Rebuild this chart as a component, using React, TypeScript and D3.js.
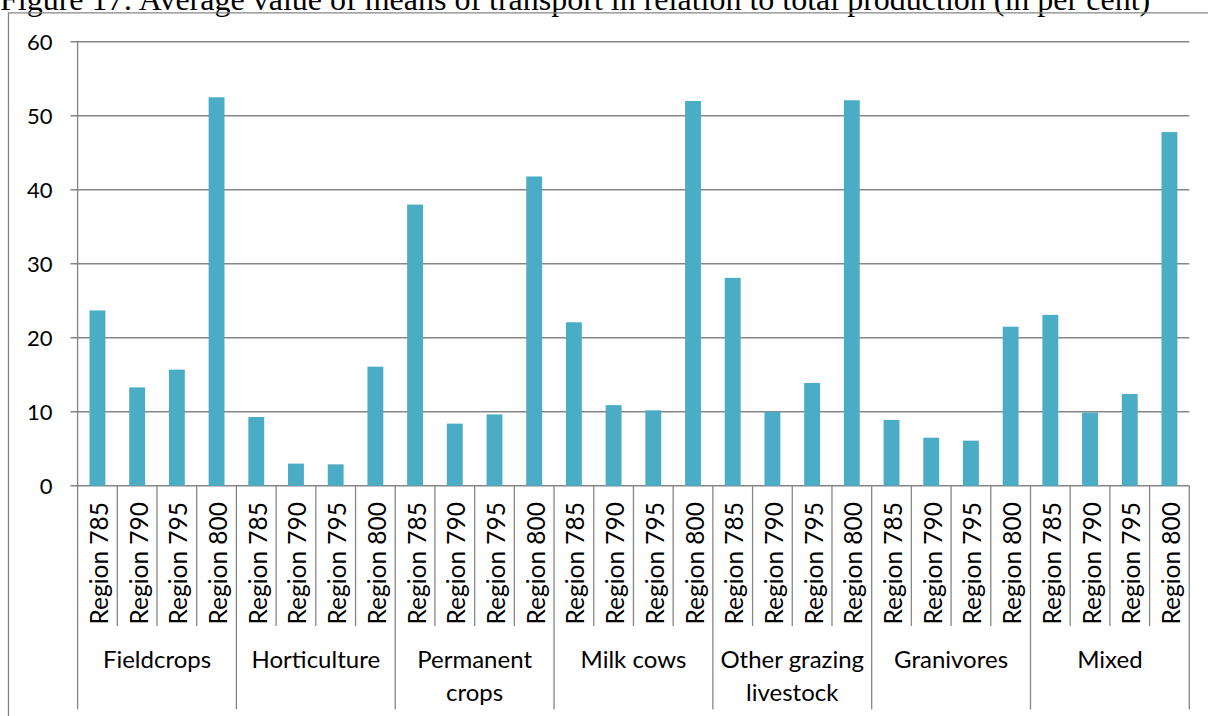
import React from "react";
import * as d3 from "d3";

const title =
  "Figure 17: Average value of means of transport in relation to total production (in per cent)";
const categories = [
  "Fieldcrops",
  "Horticulture",
  "Permanent crops",
  "Milk cows",
  "Other grazing livestock",
  "Granivores",
  "Mixed",
];
const categoryLines = [
  ["Fieldcrops"],
  ["Horticulture"],
  ["Permanent", "crops"],
  ["Milk cows"],
  ["Other grazing", "livestock"],
  ["Granivores"],
  ["Mixed"],
];
const regions = ["Region 785", "Region 790", "Region 795", "Region 800"];
const region785 = [23.7, 9.3, 38.0, 22.1, 28.1, 8.9, 23.1];
const region790 = [13.3, 3.0, 8.4, 10.9, 10.0, 6.5, 9.9];
const region795 = [15.7, 2.9, 9.65, 10.2, 13.9, 6.1, 12.4];
const region800 = [52.5, 16.1, 41.8, 52.0, 52.1, 21.5, 47.8];
const yTicks = [0, 10, 20, 30, 40, 50, 60];

const W = 1208;
const H = 716;
const left = 77.6;
const right = 1189.3;
const top = 41.8;
const bottom = 485.8;
const GRAY = "#868686";
const BAR = "#4BACC6";
const FONT = "Lato, 'Open Sans', sans-serif";

export default function App() {
  const series = [region785, region790, region795, region800];
  const items = categories.flatMap((c, ci) =>
    regions.map((r, ri) => ({ key: `${ci}-${ri}`, cat: c, ci, region: r, value: series[ri][ci] }))
  );
  const x = d3
    .scaleBand<string>()
    .domain(items.map((d) => d.key))
    .range([left, right])
    .paddingInner(0.6)
    .paddingOuter(0.3);
  const y = d3.scaleLinear().domain([0, 60]).range([bottom, top]);
  const step = x.step();
  const boundaries = d3.range(items.length + 1).map((i) => left + i * step);

  return (
    <svg
      width={W}
      height={H}
      style={{ position: "absolute", left: 0, top: 0, background: "#fff" }}
    >
      <rect x={0} y={0} width={W} height={H} fill="#fff" />
      <text
        x={0}
        y={9.5}
        fontFamily="'Liberation Serif', 'Times New Roman', serif"
        fontSize={32}
        fill="#000"
      >
        {title}
      </text>
      {/* frame */}
      <path d={`M8.5,${H + 2} V12.8 H${W + 2}`} fill="none" stroke={GRAY} strokeWidth={1.3} />
      {/* gridlines & y ticks */}
      {yTicks.map((t) => (
        <g key={t}>
          <line x1={70.5} x2={right} y1={y(t)} y2={y(t)} stroke={GRAY} strokeWidth={1.4} />
          <text
            x={52.5}
            y={y(t)}
            dy="0.36em"
            textAnchor="end"
            fontFamily={FONT}
            fontSize={22}
            fill="#000"
          >
            {t}
          </text>
        </g>
      ))}
      <line x1={left} x2={left} y1={top} y2={bottom} stroke={GRAY} strokeWidth={1.4} />
      {/* bars */}
      {items.map((d) => (
        <rect
          key={d.key}
          x={x(d.key)}
          width={x.bandwidth()}
          y={y(d.value)}
          height={y(0) - y(d.value)}
          fill={BAR}
        />
      ))}
      {/* x axis separators */}
      {boundaries.map((bx, i) => (
        <line
          key={i}
          x1={bx}
          x2={bx}
          y1={bottom}
          y2={i % 4 === 0 ? 709.5 : 626}
          stroke={GRAY}
          strokeWidth={1.3}
        />
      ))}
      {/* region labels */}
      {items.map((d) => {
        const cx = (x(d.key) as number) + x.bandwidth() / 2;
        return (
          <text
            key={d.key}
            transform={`translate(${cx + 10.5},502) rotate(-90)`}
            textAnchor="end"
            fontFamily={FONT}
            fontSize={24.5}
            fill="#000"
          >
            {d.region}
          </text>
        );
      })}
      {/* category labels */}
      {categoryLines.map((lines, ci) => {
        const cx = left + (ci * 4 + 2) * step;
        return (
          <text key={ci} textAnchor="middle" fontFamily={FONT} fontSize={24} fill="#000">
            {lines.map((l, li) => (
              <tspan key={li} x={cx} y={668 + li * 32.5}>
                {l}
              </tspan>
            ))}
          </text>
        );
      })}
    </svg>
  );
}
